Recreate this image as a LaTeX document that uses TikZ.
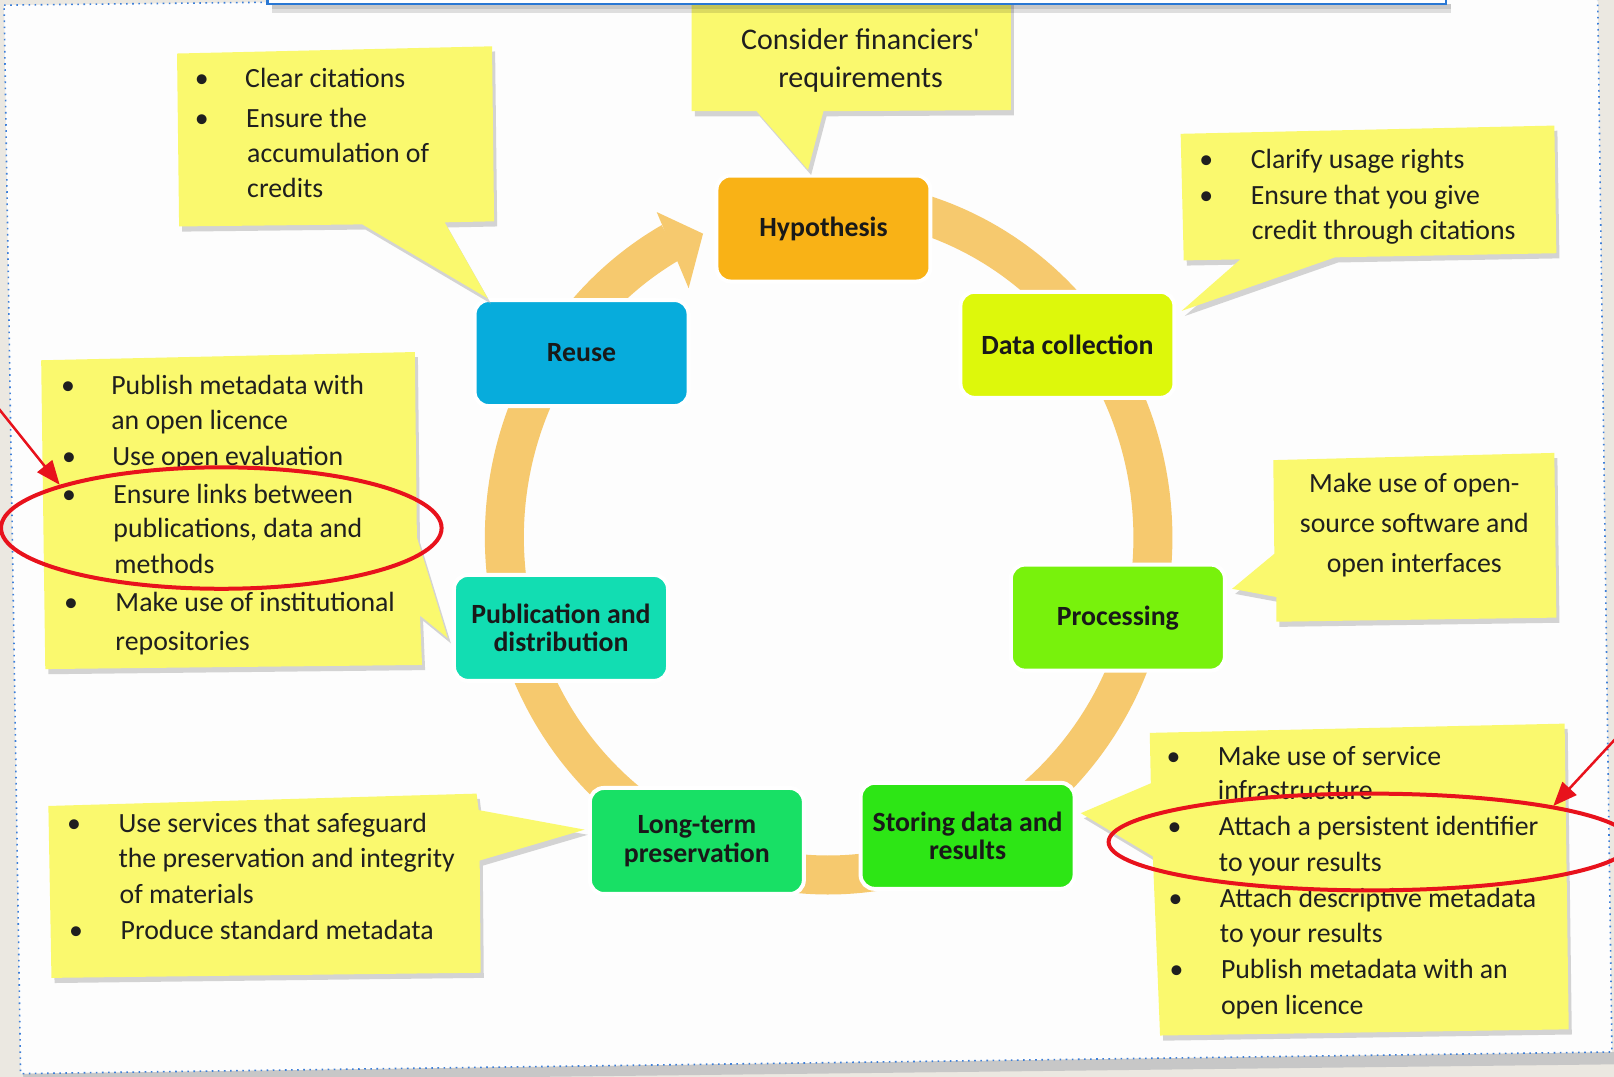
\documentclass[tikz,border=0pt]{standalone}
\usepackage{fontspec}
\setmainfont{Carlito}
\usetikzlibrary{arrows.meta}
\definecolor{bgbeige}{HTML}{EBE8E1}
\definecolor{pagewhite}{HTML}{FDFDFD}
\definecolor{dotblue}{HTML}{3D7FD9}
\definecolor{ringc}{HTML}{F6C96E}
\definecolor{callyellow}{HTML}{FAF96E}
\definecolor{hypc}{HTML}{F9B216}
\definecolor{dcc}{HTML}{DDF80B}
\definecolor{procc}{HTML}{78F20C}
\definecolor{storc}{HTML}{2DE615}
\definecolor{longc}{HTML}{18E065}
\definecolor{pubc}{HTML}{12DDB2}
\definecolor{reusec}{HTML}{07ACDC}
\definecolor{redann}{HTML}{E8121C}
\definecolor{topblue}{HTML}{2A78D4}
\tikzset{
  stagebox/.style={rectangle, rounded corners=14pt, minimum width=214pt, minimum height=106pt,
    draw=white, line width=4pt, align=center, text=black!90,
    font=\bfseries\fontsize{27.8}{28.8}\selectfont},
  ctext/.style={inner sep=0pt, text=black!88, font=\fontsize{27.8}{30}\selectfont},
  ctextbig/.style={inner sep=0pt, text=black!88, font=\fontsize{30}{32}\selectfont},
  callout/.style={fill=callyellow},
  callshadow/.style={fill=black!30, opacity=0.55},
  redline/.style={draw=redann, line width=4pt},
}
\begin{document}
\begin{tikzpicture}[x=1.0293pt, y=-1.0293pt]
\useasboundingbox (0,0) rectangle (1568,1046);
\clip (0,0) rectangle (1568,1046);
% background and page
\fill[bgbeige] (0,0) rectangle (1568,1046);
\fill[black!22] (22,1043) -- (1568,1022) -- (1568,1034) -- (24,1052) -- cycle;
\fill[pagewhite] (4,5) -- (1552,-12) -- (1566,1022) -- (20,1043) -- cycle;
\draw[dotblue, line width=1.6pt, dash pattern=on 1.6pt off 4.5pt] (4,5) -- (1552,-12) -- (1566,1022) -- (20,1043) -- cycle;

% cycle ring
\draw[ringc, line width=39pt] (805,522) ++(-100:315 and 328)
   arc[start angle=-100, end angle=241, x radius=315, y radius=328];
\fill[ringc] (638,206) -- (683,227) -- (669,280) -- cycle;

% stages
\node[stagebox, fill=hypc]   (hyp)   at (800,222) {Hypothesis};
\node[stagebox, fill=dcc]    (dc)    at (1037,335) {Data collection};
\node[stagebox, fill=procc]  (proc)  at (1086,600) {Processing};
\node[stagebox, fill=storc]  (stor)  at (940,812) {Storing data and\\results};
\node[stagebox, fill=longc]  (long)  at (677,817) {Long-term\\preservation};
\node[stagebox, fill=pubc]   (pub)   at (545,610) {Publication and\\distribution};
\node[stagebox, fill=reusec] (reuse) at (565,343) {Reuse};

% callout shapes: shadows
\begin{scope}[shift={(3,5)}]
\fill[callshadow] (172,52) -- (478,45) -- (480,215) -- (432,216) -- (474,290) -- (352,218) -- (174,220) -- cycle;
\fill[callshadow] (672,-5) -- (982,-5) -- (982,107) -- (800,108) -- (785,165) -- (735,108) -- (672,108) -- cycle;
\fill[callshadow] (1147,130) -- (1510,122) -- (1512,246) -- (1297,250) -- (1148,302) -- (1205,252) -- (1150,253) -- cycle;
\fill[callshadow] (40,350) -- (403,342) -- (405,522) -- (435,620) -- (408,598) -- (410,646) -- (44,650) -- cycle;
\fill[callshadow] (1237,447) -- (1510,440) -- (1512,600) -- (1240,604) -- (1240,580) -- (1197,572) -- (1238,538) -- cycle;
\fill[callshadow] (47,783) -- (463,771) -- (465,787) -- (568,806) -- (466,836) -- (467,945) -- (50,950) -- cycle;
\fill[callshadow] (1117,712) -- (1520,703) -- (1524,1000) -- (1127,1006) -- (1120,832) -- (1050,790) -- (1118,761) -- cycle;
\end{scope}
% callout shapes
\fill[callout] (172,52) -- (478,45) -- (480,215) -- (432,216) -- (474,290) -- (352,218) -- (174,220) -- cycle;
\fill[callout] (672,-5) -- (982,-5) -- (982,107) -- (800,108) -- (785,165) -- (735,108) -- (672,108) -- cycle;
\fill[callout] (1147,130) -- (1510,122) -- (1512,246) -- (1297,250) -- (1148,302) -- (1205,252) -- (1150,253) -- cycle;
\fill[callout] (40,350) -- (403,342) -- (405,522) -- (435,620) -- (408,598) -- (410,646) -- (44,650) -- cycle;
\fill[callout] (1237,447) -- (1510,440) -- (1512,600) -- (1240,604) -- (1240,580) -- (1197,572) -- (1238,538) -- cycle;
\fill[callout] (47,783) -- (463,771) -- (465,787) -- (568,806) -- (466,836) -- (467,945) -- (50,950) -- cycle;
\fill[callout] (1117,712) -- (1520,703) -- (1524,1000) -- (1127,1006) -- (1120,832) -- (1050,790) -- (1118,761) -- cycle;

% callout texts
\foreach \xx/\yy/\txt [count=\i] in {238/76/Clear citations, 239/115/Ensure the, 240/149/accumulation of, 240/183/credits}
  \node[ctext, anchor=base west] (ta\i) at (\xx,\yy+9) {\txt};
\foreach \yy [count=\i] in {76,115} \node[ctext, anchor=base] (ba\i) at (196,\yy+9) {•};

\foreach \yy/\txt [count=\i] in {38/Consider financiers\textquotesingle, 75/requirements}
  \node[ctextbig, anchor=base] (tb\i) at (836,\yy+10) {\txt};

\foreach \xx/\yy/\txt [count=\i] in {1215/155/Clarify usage rights, 1215/190/Ensure that you give, 1216/224/credit through citations}
  \node[ctext, anchor=base west] (tc\i) at (\xx,\yy+9) {\txt};
\foreach \yy [count=\i] in {155,190} \node[ctext, anchor=base] (bc\i) at (1172,\yy+9) {•};

\foreach \xx/\yy/\txt [count=\i] in {108/374/Publish metadata with, 108/408/an open licence, 109/443/Use open evaluation,
   110/480/Ensure links between, 110/513/{publications, data and}, 111/548/methods,
   112/585/Make use of institutional, 112/623/repositories}
  \node[ctext, anchor=base west] (td\i) at (\xx,\yy+9) {\txt};
\foreach \xx/\yy [count=\i] in {66/374,67/443,67/480,69/585} \node[ctext, anchor=base] (bd\i) at (\xx,\yy+9) {•};

\foreach \yy/\txt [count=\i] in {469/Make use of open-, 508/source software and, 547/open interfaces}
  \node[ctext, anchor=base] (te\i) at (1374,\yy+9) {\txt};

\foreach \xx/\yy/\txt [count=\i] in {115/800/Use services that safeguard, 115/834/the preservation and integrity, 116/869/of materials, 117/904/Produce standard metadata}
  \node[ctext, anchor=base west] (tf\i) at (\xx,\yy+9) {\txt};
\foreach \xx/\yy [count=\i] in {72/800,74/904} \node[ctext, anchor=base] (bf\i) at (\xx,\yy+9) {•};

\foreach \xx/\yy/\txt [count=\i] in {1183/735/Make use of service, 1183/768/infrastructure, 1184/803/Attach a persistent identifier,
   1184/838/to your results, 1185/873/Attach descriptive metadata, 1185/907/to your results,
   1186/942/Publish metadata with an, 1186/977/open licence}
  \node[ctext, anchor=base west] (tg\i) at (\xx,\yy+9) {\txt};
\foreach \xx/\yy [count=\i] in {1140/735,1141/803,1142/873,1143/942} \node[ctext, anchor=base] (bg\i) at (\xx,\yy+9) {•};

% top text box (partially visible)
\fill[black, opacity=0.12] (264,4) rectangle (1410,13);
\fill[black, opacity=0.10] (264,4) rectangle (1410,9);
\draw[topblue, line width=2.5pt, fill=white] (260,-20) rectangle (1405,4);

% red annotations
\draw[redline] (215,513) ellipse [x radius=214, y radius=59];
\draw[redline] (1331,818) ellipse [x radius=254, y radius=47];
\coordinate (la) at (-2,396);
\coordinate (lt) at (58,471);
\coordinate (ra) at (1572,715);
\coordinate (rt) at (1509,783);
\draw[draw=redann, line width=2.5pt, -{Triangle[length=24pt,width=19pt]}] (la) -- (lt);
\draw[draw=redann, line width=2.5pt, -{Triangle[length=24pt,width=19pt]}] (ra) -- (rt);
\end{tikzpicture}
\end{document}
